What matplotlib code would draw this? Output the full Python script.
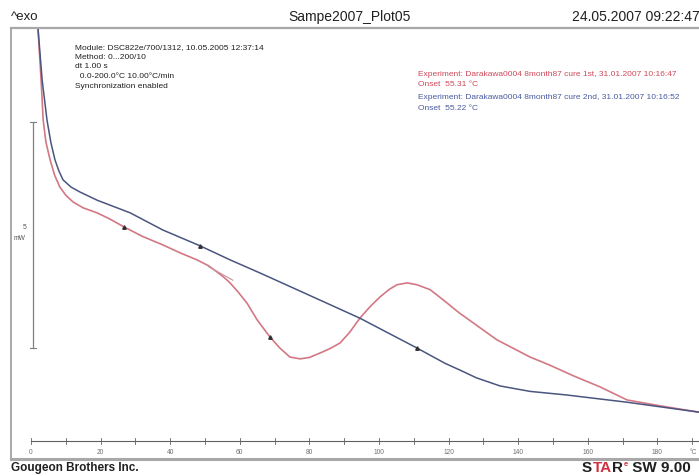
import matplotlib.pyplot as plt
import numpy as np

plt.rcParams['font.family'] = ['Liberation Sans', 'DejaVu Sans']

# curves: temperature (degC) and heat flow (mW)
red_t = [1.4, 2.0, 2.9, 3.5, 4.3, 5.5, 6.8, 8.3, 10.0, 12.1, 15.0, 19.0, 22.5, 26.7,
         32.0, 37.9, 43.0, 47.7, 51.0, 53.5, 55.5, 57.2, 59.5, 62.1, 65.0, 68.7,
         71.5, 74.4, 77.3, 80.0, 83.1, 86.0, 88.8, 91.5, 94.5, 97.5, 100.3, 103.0,
         105.2, 108.1, 110.9, 114.7, 119.5, 123.0, 127.0, 133.9, 143.4, 149.1,
         156.0, 163.5, 171.3, 180.8, 192.0]
red_mw = [8.70, 8.08, 6.93, 6.04, 5.55, 5.16, 4.82, 4.56, 4.38, 4.23, 4.10, 3.99, 3.86, 3.68,
          3.47, 3.28, 3.10, 2.95, 2.82, 2.68, 2.56, 2.44, 2.24, 1.99, 1.62, 1.24,
          1.00, 0.80, 0.76, 0.79, 0.89, 0.99, 1.11, 1.34, 1.66, 1.92, 2.13, 2.30,
          2.40, 2.44, 2.40, 2.29, 2.00, 1.78, 1.56, 1.18, 0.80, 0.62,
          0.38, 0.14, -0.15, -0.28, -0.42]

blue_t = [1.4, 2.0, 3.2, 4.6, 5.7, 6.9, 8.0, 9.2, 11.5, 14.1, 19.0, 28.5, 37.9, 48.6,
          57.2, 65.8, 77.3, 94.5, 110.9, 114.7, 119.0, 123.3, 128.0, 134.8, 143.4,
          154.0, 171.3, 192.0]
blue_mw = [8.70, 8.08, 6.93, 6.04, 5.55, 5.16, 4.92, 4.72, 4.56, 4.45, 4.27, 3.99, 3.61, 3.26,
           2.95, 2.66, 2.26, 1.66, 1.00, 0.84, 0.66, 0.51, 0.34, 0.16, 0.04,
           -0.04, -0.20, -0.42]

# small evaluation marks on the curves
red_mark_t = [26.7, 68.7]
red_mark_mw = [3.68, 1.24]
blue_mark_t = [48.6, 110.9]
blue_mark_mw = [3.26, 1.00]

# onset tangent piece on the red curve
tan_t = [51.0, 58.0]
tan_mw = [2.80, 2.50]

x_ticks = np.arange(0, 191, 10)
x_labels = [str(v) for v in range(0, 181, 20)]

info_lines = ["Module: DSC822e/700/1312, 10.05.2005 12:37:14",
              "Method: 0...200/10",
              "dt 1.00 s",
              "  0.0-200.0\u00b0C 10.00\u00b0C/min",
              "Synchronization enabled"]
red_text = ["Experiment: Darakawa0004 8month87 cure 1st, 31.01.2007 10:16:47",
            "Onset  55.31 \u00b0C"]
blue_text = ["Experiment: Darakawa0004 8month87 cure 2nd, 31.01.2007 10:16:52",
             "Onset  55.22 \u00b0C"]

W, H = 699, 476
fig = plt.figure(figsize=(W / 100, H / 100), dpi=100)


def fx(px):
    return px / W


def fy(py):
    return 1 - py / H


def ty(py):
    # pixel row -> mW
    return (393.2 - py) / 45.2


def tx(px):
    return (px - 31) / 3.48


ax = fig.add_axes([fx(11), fy(459), fx(699) - fx(11), fy(28) - fy(459)])
ax.set_xlim(tx(11), tx(699))
ax.set_ylim(ty(459), ty(28))
ax.axis('off')

red = '#d27884'
blue = '#4a5580'
ax.plot(red_t, red_mw, color=red, lw=1.2)
ax.plot(blue_t, blue_mw, color=blue, lw=1.1)
ax.plot(tan_t, tan_mw, color='#c89098', lw=0.8)
ax.plot(red_mark_t, red_mark_mw, ls='none', marker='^', ms=2.5, color='#303030')
ax.plot(blue_mark_t, blue_mark_mw, ls='none', marker='^', ms=2.5, color='#303030')

# temperature axis
axis_y = ty(441)
ax.plot([0, 193], [axis_y, axis_y], color='#606060', lw=0.8)
for v in x_ticks:
    ax.plot([v, v], [axis_y - 0.06, axis_y + 0.06], color='#606060', lw=0.6)
for i, lab in enumerate(x_labels):
    ax.text(i * 20, ty(452), lab, fontsize=4.8, color='#707070', ha='center', va='center')
ax.text(tx(693), ty(452), "\u00b0C", fontsize=4.8, color='#707070', ha='center', va='center', clip_on=False)

# 5 mW scale bar
sx = tx(33)
ax.plot([sx, sx], [1, 6], color='#808080', lw=0.9)
ax.plot([tx(30), tx(36)], [1, 1], color='#808080', lw=0.8)
ax.plot([tx(30), tx(36)], [6, 6], color='#808080', lw=0.8)
fig.text(fx(25), fy(227), "5", fontsize=4.8, ha='center', va='center', color='#505050')
fig.text(fx(19), fy(238), "mW", fontsize=4.8, ha='center', va='center', color='#505050')

# frame
fig.add_artist(plt.Line2D([fx(11), fx(699)], [fy(28), fy(28)], color='#a8a8a8', lw=1.6))
fig.add_artist(plt.Line2D([fx(11), fx(11)], [fy(28), fy(459)], color='#a8a8a8', lw=1.4))
fig.add_artist(plt.Line2D([fx(11), fx(699)], [fy(459), fy(459)], color='#a8a8a8', lw=2.2))

# header
fig.text(fx(11), fy(17), "^exo", fontsize=9.5, ha='left', va='center', color='#202020')
fig.text(fx(350), fy(17), "Sampe2007_Plot05", fontsize=10, ha='center', va='center', color='#202020')
fig.text(fx(700), fy(17), "24.05.2007 09:22:47", fontsize=10, ha='right', va='center', color='#202020')

# info block
for i, line in enumerate(info_lines):
    fig.text(fx(75), fy(48 + i * 9.5), line, fontsize=6.0, ha='left', va='center', color='#202020')
for i, line in enumerate(red_text):
    fig.text(fx(418), fy(75 + i * 10), line, fontsize=6.0, ha='left', va='center', color='#d04858')
for i, line in enumerate(blue_text):
    fig.text(fx(418), fy(98 + i * 10), line, fontsize=6.0, ha='left', va='center', color='#4a5aa0')

# footer
fig.text(fx(11), fy(468), "Gougeon Brothers Inc.", fontsize=8.5, fontweight='heavy',
         ha='left', va='center', color='#202020')

# STAR^e SW 9.00, laid out piece by piece from the left
renderer = fig.canvas.get_renderer()
pieces = [("S", 11, '#202020', 0), ("TA", 11, '#d03040', 0), ("R", 11, '#202020', 0),
          ("e", 5.5, '#d03040', 4), (" SW 9.00", 11, '#202020', 0)]
cur = 582
for txt, size, col, rise in pieces:
    t = fig.text(fx(cur), fy(468 - rise), txt, fontsize=size, fontweight='bold',
                 ha='left', va='center', color=col)
    cur += t.get_window_extent(renderer).width + 0.5

fig.savefig('out.png', dpi=100)
